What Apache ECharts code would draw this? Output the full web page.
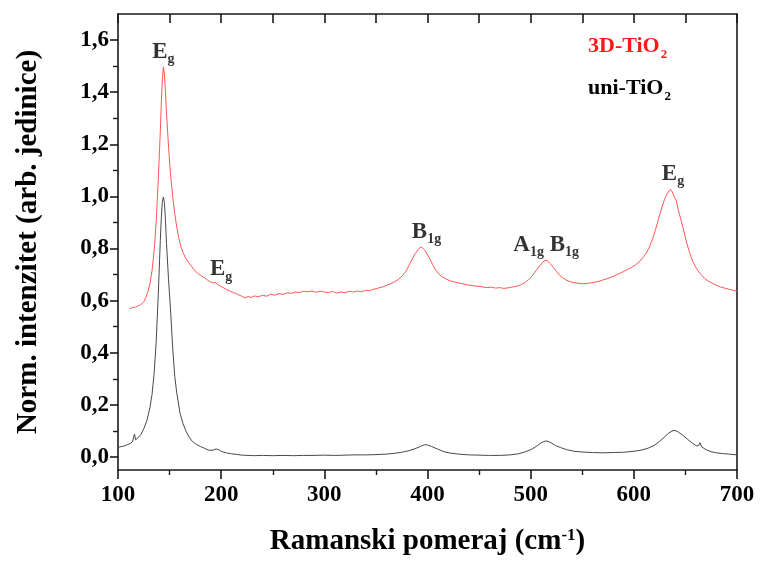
<!DOCTYPE html>
<html>
<head>
<meta charset="utf-8">
<title>Raman spektri TiO2</title>
<script src="https://cdn.jsdelivr.net/npm/echarts@6/dist/echarts.min.js"></script>
<style>
  html, body { margin: 0; padding: 0; background: #fff; }
  #chart { width: 760px; height: 565px; }
</style>
</head>
<body>
<div id="chart"></div>
<script>
// Raman shift (cm-1) and normalized intensity, 3D-TiO2 sample
const shift3D = [111, 113, 115, 117, 119, 121, 123, 125, 127, 129, 131, 133, 135, 137, 139, 141, 142, 143, 144, 145, 146, 147, 149, 151, 153, 155, 157, 159, 161, 163, 165, 168, 171, 174, 177, 180, 183, 186, 189, 192, 194, 196, 199, 202, 205, 208, 211, 214, 217, 220, 223, 226, 229, 232, 236, 240, 244, 248, 252, 256, 260, 264, 268, 272, 276, 280, 284, 288, 292, 296, 300, 304, 308, 312, 316, 320, 324, 328, 332, 336, 340, 344, 348, 352, 356, 360, 364, 368, 372, 376, 379, 382, 385, 388, 391, 393, 395, 397, 399, 402, 405, 408, 411, 414, 418, 422, 426, 430, 434, 438, 442, 446, 450, 454, 458, 462, 466, 470, 474, 478, 482, 486, 490, 494, 498, 502, 505, 508, 511, 513, 515, 517, 519, 522, 525, 528, 531, 534, 538, 542, 546, 550, 554, 558, 562, 566, 570, 574, 578, 582, 586, 590, 594, 598, 602, 606, 609, 612, 615, 618, 621, 624, 627, 629, 631, 633, 635, 637, 639, 641, 643, 645, 648, 651, 654, 657, 660, 663, 666, 669, 672, 676, 680, 684, 688, 692, 696, 700];
const int3D = [0.568, 0.572, 0.574, 0.575, 0.579, 0.582, 0.588, 0.596, 0.612, 0.635, 0.665, 0.715, 0.790, 0.900, 1.060, 1.250, 1.360, 1.450, 1.497, 1.470, 1.400, 1.320, 1.190, 1.080, 1.000, 0.935, 0.880, 0.840, 0.806, 0.785, 0.768, 0.748, 0.733, 0.718, 0.705, 0.697, 0.690, 0.681, 0.673, 0.668, 0.670, 0.664, 0.656, 0.650, 0.642, 0.638, 0.632, 0.628, 0.622, 0.617, 0.610, 0.616, 0.612, 0.618, 0.615, 0.620, 0.617, 0.624, 0.621, 0.627, 0.624, 0.630, 0.628, 0.633, 0.631, 0.636, 0.634, 0.637, 0.632, 0.636, 0.633, 0.631, 0.635, 0.629, 0.633, 0.630, 0.636, 0.633, 0.637, 0.634, 0.640, 0.638, 0.644, 0.648, 0.652, 0.658, 0.665, 0.672, 0.682, 0.697, 0.712, 0.735, 0.758, 0.780, 0.796, 0.805, 0.803, 0.795, 0.783, 0.762, 0.738, 0.717, 0.702, 0.692, 0.683, 0.676, 0.672, 0.668, 0.665, 0.661, 0.659, 0.656, 0.655, 0.652, 0.650, 0.652, 0.648, 0.650, 0.647, 0.649, 0.652, 0.655, 0.660, 0.668, 0.680, 0.698, 0.714, 0.730, 0.744, 0.752, 0.755, 0.750, 0.742, 0.728, 0.712, 0.698, 0.688, 0.680, 0.673, 0.669, 0.667, 0.665, 0.666, 0.668, 0.671, 0.674, 0.679, 0.684, 0.690, 0.697, 0.704, 0.712, 0.720, 0.728, 0.738, 0.752, 0.766, 0.782, 0.805, 0.835, 0.872, 0.915, 0.955, 0.980, 1.000, 1.015, 1.026, 1.020, 1.000, 0.985, 0.950, 0.920, 0.875, 0.825, 0.785, 0.752, 0.728, 0.710, 0.696, 0.684, 0.675, 0.667, 0.659, 0.652, 0.648, 0.644, 0.640, 0.636];

// uni-TiO2 sample
const shiftUni = [100, 103, 106, 109, 112, 114, 115, 116, 117, 119, 122, 125, 128, 131, 133, 135, 137, 139, 141, 142, 143, 144, 145, 146, 147, 149, 151, 153, 155, 157, 160, 163, 166, 169, 172, 176, 180, 184, 188, 192, 195, 198, 201, 205, 210, 215, 220, 226, 232, 240, 250, 260, 270, 280, 290, 300, 310, 320, 330, 340, 350, 360, 368, 375, 382, 388, 393, 397, 400, 404, 410, 416, 422, 430, 440, 450, 460, 470, 480, 488, 495, 501, 506, 510, 514, 517, 520, 524, 529, 535, 542, 550, 560, 570, 580, 590, 600, 607, 614, 620, 625, 630, 634, 637, 640, 643, 647, 652, 657, 661, 663, 664, 666, 670, 675, 680, 686, 692, 700];
const intUni = [0.036, 0.040, 0.042, 0.047, 0.052, 0.058, 0.062, 0.088, 0.066, 0.072, 0.085, 0.108, 0.140, 0.190, 0.240, 0.320, 0.440, 0.620, 0.830, 0.920, 0.980, 0.998, 0.975, 0.910, 0.820, 0.680, 0.560, 0.420, 0.310, 0.245, 0.170, 0.128, 0.098, 0.076, 0.060, 0.048, 0.040, 0.033, 0.026, 0.026, 0.031, 0.027, 0.020, 0.016, 0.012, 0.010, 0.007, 0.006, 0.005, 0.006, 0.005, 0.006, 0.005, 0.006, 0.006, 0.007, 0.006, 0.007, 0.008, 0.008, 0.009, 0.011, 0.014, 0.018, 0.024, 0.032, 0.040, 0.047, 0.046, 0.040, 0.030, 0.020, 0.015, 0.011, 0.008, 0.007, 0.006, 0.006, 0.008, 0.012, 0.020, 0.030, 0.042, 0.054, 0.061, 0.060, 0.054, 0.044, 0.036, 0.028, 0.022, 0.019, 0.017, 0.016, 0.017, 0.018, 0.022, 0.026, 0.034, 0.045, 0.060, 0.078, 0.092, 0.100, 0.102, 0.096, 0.085, 0.068, 0.052, 0.042, 0.045, 0.055, 0.038, 0.028, 0.020, 0.016, 0.013, 0.011, 0.008];

// Mode assignments placed above the 3D-TiO2 peaks
const modeShift = [144, 200, 399, 515, 638];
const modeInt = [1.497, 0.662, 0.806, 0.755, 1.028];
const modeText = ['{m|E}{s|g}', '{m|E}{s|g}', '{m|B}{s|1g}', '{m|A}{s|1g}{m| B}{s|1g}', '{m|E}{s|g}'];

// Tick labels of the intensity axis
const intTicks = [0, 0.2, 0.4, 0.6, 0.8, 1.0, 1.2, 1.4, 1.6];
const intMinorTicks = [0.1, 0.3, 0.5, 0.7, 0.9, 1.1, 1.3, 1.5];

const seriesNames = ['3D-TiO2', 'uni-TiO2'];
const legendRich = {
  '3D-TiO2': '{r|3D-TiO}{rs|2}',
  'uni-TiO2': '{k|uni-TiO}{ks|2}'
};

const FONT = 'Liberation Serif';
const AXIS_COLOR = '#1a1a1a';

function zip(xs, ys) {
  return xs.map((x, i) => [x, ys[i]]);
}

const subStyle = { fontSize: 14, lineHeight: 14, padding: [12, 0, 0, 0], verticalAlign: 'top', fontWeight: 'bold', fontFamily: FONT, color: '#000' };
const mainStyle = { fontSize: 23, lineHeight: 24, verticalAlign: 'top', fontWeight: 'bold', fontFamily: FONT, color: '#000' };

const chart = echarts.init(document.getElementById('chart'), null, { renderer: 'canvas' });

chart.setOption({
  animation: false,
  backgroundColor: '#fff',
  grid: { left: 118, right: 23, top: 14, bottom: 95 },
  legend: {
    data: seriesNames,
    orient: 'vertical',
    left: 578,
    top: 30,
    itemGap: 16,
    itemWidth: 0,
    itemHeight: 0,
    icon: 'rect',
    itemStyle: { opacity: 0 },
    lineStyle: { opacity: 0 },
    selectedMode: false,
    formatter: name => legendRich[name],
    textStyle: {
      fontFamily: FONT,
      fontWeight: 'bold',
      fontSize: 22,
      rich: {
        r: { color: '#ff1a1a', fontSize: 22, lineHeight: 24, verticalAlign: 'top', fontWeight: 'bold', fontFamily: FONT },
        rs: { color: '#ff1a1a', fontSize: 13, lineHeight: 13, padding: [13, 0, 0, 1], verticalAlign: 'top', fontWeight: 'bold', fontFamily: FONT },
        k: { color: '#000', fontSize: 22, lineHeight: 24, verticalAlign: 'top', fontWeight: 'bold', fontFamily: FONT },
        ks: { color: '#000', fontSize: 13, lineHeight: 13, padding: [13, 0, 0, 1], verticalAlign: 'top', fontWeight: 'bold', fontFamily: FONT }
      }
    }
  },
  xAxis: [
    {
      type: 'value',
      position: 'bottom',
      min: 100,
      max: 700,
      interval: 100,
      name: '{a|Ramanski pomeraj (cm}{b|-1}{a|)}',
      nameLocation: 'middle',
      nameGap: 57,
      nameTextStyle: {
        rich: {
          a: { fontFamily: FONT, fontWeight: 'bold', fontSize: 29, lineHeight: 32, verticalAlign: 'top', color: '#000' },
          b: { fontFamily: FONT, fontWeight: 'bold', fontSize: 17, lineHeight: 17, verticalAlign: 'top', color: '#000' }
        }
      },
      axisLine: { show: true, onZero: false, lineStyle: { color: AXIS_COLOR, width: 1.6 } },
      axisTick: { show: true, inside: false, length: 9, lineStyle: { color: AXIS_COLOR, width: 1.6 } },
      minorTick: { show: true, splitNumber: 2, length: 5, lineStyle: { color: AXIS_COLOR, width: 1.4 } },
      axisLabel: { margin: 14, fontFamily: FONT, fontWeight: 'bold', fontSize: 23, color: '#000' },
      splitLine: { show: false }
    },
    {
      type: 'value',
      position: 'top',
      min: 100,
      max: 700,
      interval: 50,
      axisLine: { show: true, onZero: false, lineStyle: { color: AXIS_COLOR, width: 1.6 } },
      axisTick: { show: true, inside: true, length: 9, lineStyle: { color: AXIS_COLOR, width: 1.6 } },
      axisLabel: { show: false },
      splitLine: { show: false }
    }
  ],
  yAxis: [
    {
      type: 'value',
      position: 'left',
      min: -0.05,
      max: 1.7,
      name: 'Norm. intenzitet (arb. jedinice)',
      nameLocation: 'middle',
      nameGap: 75,
      nameTextStyle: { fontFamily: FONT, fontWeight: 'bold', fontSize: 29, color: '#000' },
      axisLine: { show: true, onZero: false, lineStyle: { color: AXIS_COLOR, width: 1.6 } },
      axisTick: { show: true, inside: false, length: 8, customValues: intTicks, lineStyle: { color: AXIS_COLOR, width: 1.6 } },
      axisLabel: {
        margin: 9,
        customValues: intTicks,
        fontFamily: FONT,
        fontWeight: 'bold',
        fontSize: 23,
        color: '#000',
        formatter: v => v.toFixed(1).replace('.', ',')
      },
      splitLine: { show: false }
    },
    {
      type: 'value',
      position: 'right',
      min: -0.05,
      max: 1.7,
      axisLine: { show: true, onZero: false, lineStyle: { color: AXIS_COLOR, width: 1.6 } },
      axisTick: { show: false },
      axisLabel: { show: false },
      splitLine: { show: false }
    },
    {
      type: 'value',
      position: 'left',
      min: -0.05,
      max: 1.7,
      axisLine: { show: false },
      axisTick: { show: true, inside: false, length: 5, customValues: intMinorTicks, lineStyle: { color: AXIS_COLOR, width: 1.4 } },
      axisLabel: { show: false },
      splitLine: { show: false }
    }
  ],
  series: [
    {
      name: seriesNames[0],
      type: 'line',
      xAxisIndex: 0,
      yAxisIndex: 0,
      data: zip(shift3D, int3D),
      showSymbol: false,
      symbol: 'none',
      lineStyle: { color: '#ff5858', width: 1 },
      itemStyle: { color: '#ff1a1a' },
      z: 3
    },
    {
      name: seriesNames[1],
      type: 'line',
      xAxisIndex: 0,
      yAxisIndex: 0,
      data: zip(shiftUni, intUni),
      showSymbol: false,
      symbol: 'none',
      lineStyle: { color: '#4a4a4a', width: 1 },
      itemStyle: { color: '#000' },
      z: 2
    },
    {
      name: 'modes',
      type: 'scatter',
      xAxisIndex: 0,
      yAxisIndex: 0,
      silent: true,
      symbolSize: 1,
      itemStyle: { color: 'rgba(0,0,0,0)' },
      data: modeShift.map((x, i) => ({ value: [x, modeInt[i]], text: modeText[i] })),
      label: {
        show: true,
        position: 'top',
        distance: 2,
        formatter: p => p.data.text,
        rich: { m: mainStyle, s: subStyle }
      },
      z: 4
    }
  ]
});
</script>
</body>
</html>
